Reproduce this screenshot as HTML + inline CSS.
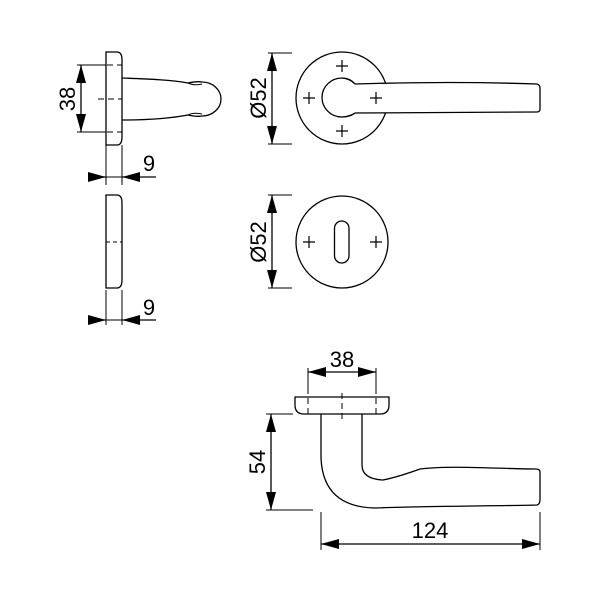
<!DOCTYPE html>
<html><head><meta charset="utf-8"><style>html,body{margin:0;padding:0;background:#fff}svg{display:block}</style></head>
<body>
<svg width="600" height="600" viewBox="0 0 600 600" xmlns="http://www.w3.org/2000/svg">
<defs>
<marker id="a" viewBox="0 0 18 10" refX="18" refY="5" markerWidth="18" markerHeight="10" markerUnits="userSpaceOnUse" orient="auto"><path d="M0,0 L18,5 L0,10 Z" fill="#000"/></marker>
</defs>
<g fill="none" stroke="#000" stroke-width="1.3">
<!-- top side view -->
<path d="M106,52 H117 Q122,52 122,60 V137 Q122,145 117,145 H106 Z"/>
<path d="M77,65 H122 M77,132 H122 M98,99 H122" stroke-dasharray="6,4" stroke-width="1"/>
<path d="M77,65 H106 M77,132 H106" stroke-width="1"/>
<line x1="81" y1="99" x2="81" y2="65" marker-end="url(#a)"/>
<line x1="81" y1="99" x2="81" y2="132" marker-end="url(#a)"/>
<path d="M122,78 C150,79 172,80 188,83 Q197,81 202,82 A19,17 0 0 1 202,116 Q197,117 188,115 C172,118 150,120 122,120"/>
<path d="M188,83 Q194,86 202,84 M188,115 Q194,112 202,114" stroke-width="1"/>
<path d="M106,145 V185 M122,145 V185" stroke-width="1"/>
<line x1="88" y1="177" x2="106" y2="177" marker-end="url(#a)"/>
<line x1="156" y1="177" x2="122" y2="177" marker-end="url(#a)"/>
<line x1="106" y1="177" x2="122" y2="177" stroke-width="1"/>
<!-- lower side view -->
<path d="M106,195 H117 Q122,195 122,203 V280 Q122,288 117,288 H106 Z"/>
<path d="M106,242 H122" stroke-dasharray="4,3" stroke-width="1"/>
<path d="M106,290 V325 M122,290 V325" stroke-width="1"/>
<line x1="88" y1="320" x2="106" y2="320" marker-end="url(#a)"/>
<line x1="156" y1="320" x2="122" y2="320" marker-end="url(#a)"/>
<line x1="106" y1="320" x2="122" y2="320" stroke-width="1"/>
<!-- rose 1 -->
<circle cx="342" cy="98" r="46"/>
<path d="M355,84 Q350,78 342,78 A20,19.5 0 0 0 342,117 Q350,117 355,113"/>
<path d="M342,78 Q350,79 355,84 M342,117 Q350,116 355,113" stroke-width="1"/>
<path d="M355,84 C420,82 480,82 537,84 Q540,85 540,88 V109 Q540,112 537,112 C480,112 420,113 355,113" fill="#fff"/>
<path d="M342,60 V72 M336,66 H348 M342,125 V137 M336,131 H348 M309,92 V104 M303,98 H315 M376,92 V104 M370,98 H382" stroke-width="1.2"/>
<path d="M268,53 H292 M268,144 H292" stroke-width="1"/>
<line x1="272" y1="98" x2="272" y2="53" marker-end="url(#a)"/>
<line x1="272" y1="98" x2="272" y2="144" marker-end="url(#a)"/>
<!-- rose 2 -->
<circle cx="342" cy="242" r="46"/>
<rect x="334.5" y="221" width="14.5" height="42" rx="7.25"/>
<path d="M309,236 V248 M303,242 H315 M376,236 V248 M370,242 H382" stroke-width="1.2"/>
<path d="M268,195 H292 M268,288 H292" stroke-width="1"/>
<line x1="272" y1="242" x2="272" y2="195" marker-end="url(#a)"/>
<line x1="272" y1="242" x2="272" y2="288" marker-end="url(#a)"/>
<!-- bottom view -->
<path d="M295,397 H389 V405 Q389,414 380,414 H304 Q295,414 295,405 Z"/>
<path d="M308,368 V418 M342,393 V420 M376,368 V418" stroke-dasharray="6,4" stroke-width="1"/>
<path d="M308,368 V392 M376,368 V392" stroke-width="1"/>
<line x1="342" y1="372" x2="308" y2="372" marker-end="url(#a)"/>
<line x1="342" y1="372" x2="376" y2="372" marker-end="url(#a)"/>
<path d="M321,414 V458 Q323,507 375,508 C430,506 500,506 537,505 Q540,504 540,500 V472 Q540,469 536,469 C500,469 450,465 420,469 Q398,477 383,480 Q362,479 362,465 V414"/>
<path d="M266,414 H293 M266,510 H313" stroke-width="1"/>
<line x1="271" y1="462" x2="271" y2="414" marker-end="url(#a)"/>
<line x1="271" y1="462" x2="271" y2="510" marker-end="url(#a)"/>
<path d="M321,512 V550 M540,512 V550" stroke-width="1"/>
<line x1="430" y1="544" x2="321" y2="544" marker-end="url(#a)"/>
<line x1="430" y1="544" x2="540" y2="544" marker-end="url(#a)"/>
</g>
<g font-family="Liberation Sans, Arial, sans-serif" font-size="22" fill="#000" text-anchor="middle">
<text transform="translate(75,99) rotate(-90)">38</text>
<text x="149" y="171">9</text>
<text x="149" y="315">9</text>
<text transform="translate(266,98) rotate(-90)">Ø52</text>
<text transform="translate(266,242) rotate(-90)">Ø52</text>
<text x="342" y="367">38</text>
<text transform="translate(265,462) rotate(-90)">54</text>
<text x="430" y="538">124</text>
</g>
</svg>
</body></html>
